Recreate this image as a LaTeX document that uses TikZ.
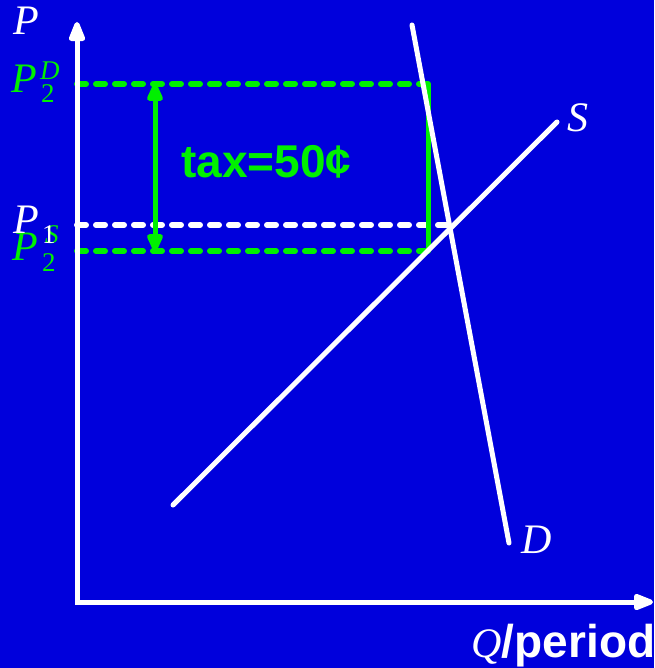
\documentclass[tikz,border=0pt]{standalone}
\usepackage{fontspec}
\setmainfont{Liberation Serif}
\newfontfamily\sansbold{Liberation Sans}
\usetikzlibrary{arrows.meta}
\definecolor{bgblue}{RGB}{0,0,220}
\definecolor{lime}{RGB}{0,240,0}
\tikzset{
  curve/.style={draw=white,line width=5pt,line cap=round},
  axis/.style={draw=white,line width=5pt,{Triangle[length=24pt,width=17pt,round]}-{Triangle[length=24pt,width=17pt,round]}},
  dashgreen/.style={draw=lime,line width=6pt,line cap=round,dash pattern=on 9pt off 10pt},
  dashwhite/.style={draw=white,line width=6pt,line cap=round,dash pattern=on 9pt off 10pt},
  taxarrow/.style={draw=lime,line width=5pt,{Triangle[length=21pt,width=17pt,round]}-{Triangle[length=21pt,width=17pt,round]}},
  lbl/.style={inner sep=0pt,anchor=base west,font=\fontsize{42}{42}\selectfont\itshape},
  sub/.style={inner sep=0pt,anchor=base west,font=\fontsize{27}{27}\selectfont\itshape},
  subup/.style={inner sep=0pt,anchor=base west,font=\fontsize{27}{27}\selectfont},
  sanslbl/.style={inner sep=0pt,anchor=base west,font=\fontsize{46}{46}\selectfont\sansbold\bfseries}
}
\begin{document}
\begin{tikzpicture}[x=1pt,y=-1pt]
\useasboundingbox (0,0) rectangle (654,668);
\fill[bgblue] (0,0) rectangle (654,668);
% coordinates
\coordinate (O) at (77,602);
\coordinate (Ytip) at (77,22);
\coordinate (Xtip) at (653,602);
\coordinate (DL) at (77,84);
\coordinate (DR) at (428,84);
\coordinate (SL) at (77,251);
\coordinate (SR) at (428,251);
\coordinate (P1L) at (77,225);
\coordinate (E) at (451,225);
\coordinate (TA) at (155,84);
\coordinate (TB) at (155,251);
\coordinate (Dtop) at (412,25);
\coordinate (Dbot) at (509,543);
\coordinate (Stop) at (557,122);
\coordinate (Sbot) at (173,505);
% dashed price lines
\draw[dashwhite] (P1L) -- (E);
\draw[dashgreen] (DL) -- (DR);
\draw[dashgreen] (SL) -- (SR);
\draw[draw=lime,line width=5pt] (DR) -- (SR);
\draw[taxarrow] (TA) -- (TB);
% curves
\draw[curve] (Dtop) -- (Dbot);
\draw[curve] (Sbot) -- (Stop);
% axes
\draw[axis,line join=miter] (Ytip) -- (O) -- (Xtip);
% labels
\node[lbl,text=white] (Plab) at (13,35) {P};
\node[lbl,text=lime] (P2D) at (11,93) {P};
\node[subup,text=lime] (P2Dsub) at (41,103) {2};
\node[sub,text=lime] (P2Dsup) at (40,80) {D};
\node[lbl,text=lime] (P2S) at (12,260) {P};
\node[subup,text=lime] (P2Ssub) at (42,271) {2};
\node[sub,text=lime] (P2Ssup) at (45,243) {S};
\node[lbl,text=white] (P1) at (13,233) {P};
\node[subup,text=white] (P1sub) at (42,243) {1};
\node[lbl,text=white] (Slab) at (567,132) {S};
\node[lbl,text=white] (Dlab) at (521,553) {D};
\node[sanslbl,text=lime] (tax) at (181,178) {tax=50¢};
\node[lbl,text=white] (Qlab) at (471,657) {Q};
\node[sanslbl,text=white,anchor=base west] (period) at (Qlab.base east) {/period};
\end{tikzpicture}
\end{document}
